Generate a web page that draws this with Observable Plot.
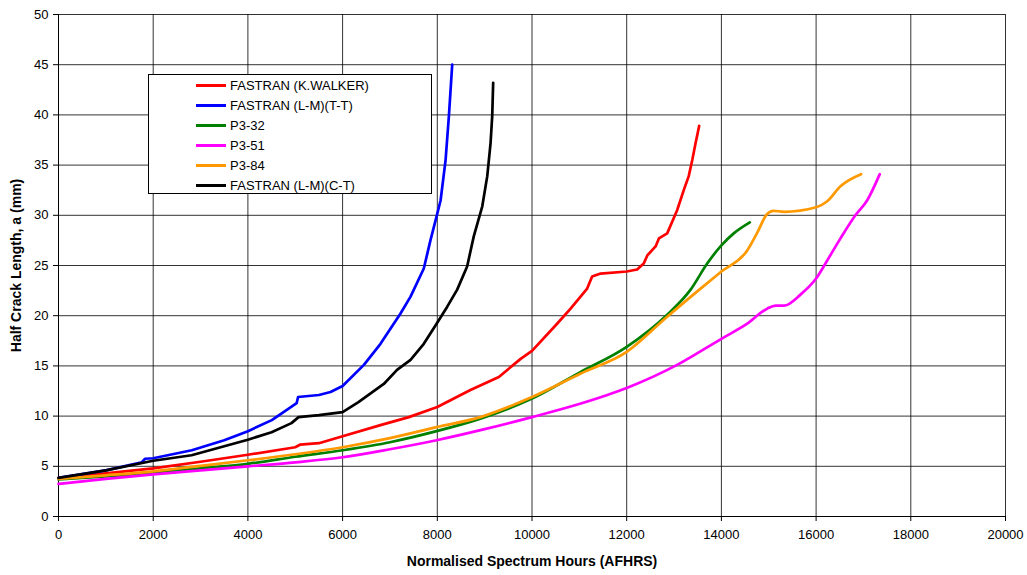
<!DOCTYPE html>
<html>
<head>
<meta charset="utf-8">
<script src="https://cdn.jsdelivr.net/npm/d3@7"></script>
<script src="https://cdn.jsdelivr.net/npm/@observablehq/plot@0.6"></script>
<style>
  body { margin: 0; background: #fff; }
  #wrap { position: relative; width: 1027px; height: 575px; font-family: "Liberation Sans", Arial, sans-serif; }
  g[aria-label="x-axis label"] text, g[aria-label="y-axis label"] text { font-weight: bold; font-size: 14px; }
  #legend { position: absolute; left: 148px; top: 74px; width: 284px; height: 120px; border: 1px solid #000; background: #fff; box-sizing: border-box; padding-top: 0px; }
  .row { height: 20px; display: flex; align-items: center; font-size: 13px; color: #000; }
  .sw { width: 30px; height: 3px; margin-left: 47px; margin-right: 4px; }
</style>
</head>
<body>
<div id="wrap"></div>
<script>
// Series names and colours
const seriesNames = ["FASTRAN (K.WALKER)", "FASTRAN (L-M)(T-T)", "P3-32", "P3-51", "P3-84", "FASTRAN (L-M)(C-T)"];
const seriesColors = ["#ff0000", "#0000ff", "#008000", "#ff00ff", "#ff9900", "#000000"];

// Tick values
const xTicks = [0, 2000, 4000, 6000, 8000, 10000, 12000, 14000, 16000, 18000, 20000];
const yTicks = [0, 5, 10, 15, 20, 25, 30, 35, 40, 45, 50];

// FASTRAN (K.WALKER)
const redX = [0, 1000, 2000, 3000, 4000, 5000, 5100, 5500, 6000, 6800, 7400, 8000, 8700, 9300, 9760, 10000, 10530, 10815, 11165, 11270, 11450, 12000, 12220, 12360, 12435, 12610, 12680, 12855, 13065, 13205, 13310, 13385, 13455, 13530];
const redY = [3.85, 4.3, 4.8, 5.45, 6.15, 6.9, 7.15, 7.3, 8.0, 9.1, 9.9, 10.9, 12.6, 13.9, 15.7, 16.5, 19.2, 20.7, 22.7, 23.9, 24.2, 24.4, 24.6, 25.2, 26.0, 26.9, 27.7, 28.2, 30.5, 32.5, 33.9, 35.5, 37.2, 38.9];

// FASTRAN (L-M)(T-T)
const blueX = [0, 1000, 1760, 1830, 2000, 2815, 3500, 4000, 4505, 5030, 5060, 5500, 5745, 6000, 6450, 6800, 7220, 7435, 7715, 7855, 7985, 8070, 8175, 8245, 8315];
const blueY = [3.85, 4.6, 5.4, 5.75, 5.8, 6.6, 7.6, 8.5, 9.6, 11.3, 11.9, 12.1, 12.4, 13.0, 15.1, 17.2, 20.2, 21.9, 24.7, 27.5, 29.9, 31.5, 35.5, 39.9, 45.0];

// P3-32
const greenX = [0, 1000, 2000, 3000, 4000, 5000, 6000, 7000, 7985, 8910, 10000, 11030, 12000, 12855, 13350, 13700, 14000, 14260, 14600];
const greenY = [3.7, 4.0, 4.35, 4.8, 5.25, 5.95, 6.6, 7.4, 8.5, 9.75, 11.75, 14.4, 16.9, 20.1, 22.6, 25.2, 27.0, 28.2, 29.3];

// P3-51
const magentaX = [0, 1000, 2000, 3000, 4000, 5000, 6000, 7000, 7985, 9000, 10000, 11030, 12000, 13065, 14000, 14545, 14965, 15150, 15320, 15670, 16000, 16235, 16515, 16830, 17080, 17345];
const magentaY = [3.25, 3.75, 4.2, 4.6, 5.0, 5.4, 5.9, 6.7, 7.6, 8.7, 9.9, 11.25, 12.8, 15.1, 17.7, 19.2, 20.7, 21.0, 21.0, 22.1, 23.7, 25.5, 27.7, 30.0, 31.5, 34.1];

// P3-84
const orangeX = [0, 1000, 2000, 3000, 4000, 5000, 6000, 7000, 7985, 8910, 10000, 11030, 12000, 12855, 13560, 14000, 14545, 14760, 14960, 15100, 15320, 16000, 16235, 16515, 16950];
const orangeY = [3.75, 4.1, 4.5, 5.05, 5.6, 6.2, 6.9, 7.8, 8.9, 9.9, 11.9, 14.25, 16.4, 19.9, 22.7, 24.4, 26.5, 28.3, 30.1, 30.45, 30.35, 30.8, 31.4, 32.9, 34.1];

// FASTRAN (L-M)(C-T)
const blackX = [0, 1000, 2000, 2810, 3500, 4000, 4500, 4920, 5070, 5500, 6000, 6335, 6870, 7150, 7435, 7715, 7985, 8210, 8420, 8630, 8770, 8950, 9055, 9125, 9160, 9180];
const blackY = [3.85, 4.6, 5.55, 6.1, 7.0, 7.65, 8.4, 9.3, 9.9, 10.1, 10.4, 11.4, 13.2, 14.6, 15.6, 17.2, 19.2, 20.9, 22.6, 24.9, 27.9, 30.9, 33.9, 37.2, 39.9, 43.2];

const seriesX = [redX, blueX, greenX, magentaX, orangeX, blackX];
const seriesY = [redY, blueY, greenY, magentaY, orangeY, blackY];
const smooth = [false, false, true, true, true, false];

const lineMarks = seriesNames.map((name, i) => {
  const rows = seriesX[i].map((x, j) => ({x, y: seriesY[i][j]}));
  return Plot.line(rows, {x: "x", y: "y", stroke: seriesColors[i], strokeWidth: 2.7, curve: smooth[i] ? "monotone-x" : "linear"});
});

const chart = Plot.plot({
  width: 1027,
  height: 575,
  marginLeft: 58,
  marginRight: 22,
  marginTop: 14,
  marginBottom: 59,
  style: {fontFamily: "'Liberation Sans', Arial, sans-serif", fontSize: "13px", background: "#fff", color: "#000"},
  x: {domain: [0, 20000]},
  y: {domain: [0, 50]},
  marks: [
    Plot.gridX(xTicks, {stroke: "#000", strokeOpacity: 0.8, strokeWidth: 1}),
    Plot.gridY(yTicks, {stroke: "#000", strokeOpacity: 0.8, strokeWidth: 1}),
    Plot.axisX(xTicks, {tickSize: 5, tickPadding: 8, tickFormat: d => String(d), label: "Normalised Spectrum Hours (AFHRS)", labelAnchor: "center", labelArrow: "none", labelOffset: 49, fontSize: 13}),
    Plot.axisY(yTicks, {tickSize: 5, tickPadding: 5, label: "Half Crack Length, a (mm)", labelAnchor: "center", labelArrow: "none", labelOffset: 47, fontSize: 13}),
    Plot.ruleX([0], {stroke: "#000"}),
    Plot.ruleY([0], {stroke: "#000"}),
    ...lineMarks
  ]
});

const wrap = document.getElementById("wrap");
wrap.appendChild(chart);

const legend = document.createElement("div");
legend.id = "legend";
seriesNames.forEach((name, i) => {
  const row = document.createElement("div");
  row.className = "row";
  const sw = document.createElement("span");
  sw.className = "sw";
  sw.style.background = seriesColors[i];
  const t = document.createElement("span");
  t.textContent = name;
  row.appendChild(sw);
  row.appendChild(t);
  legend.appendChild(row);
});
wrap.appendChild(legend);
</script>
</body>
</html>
